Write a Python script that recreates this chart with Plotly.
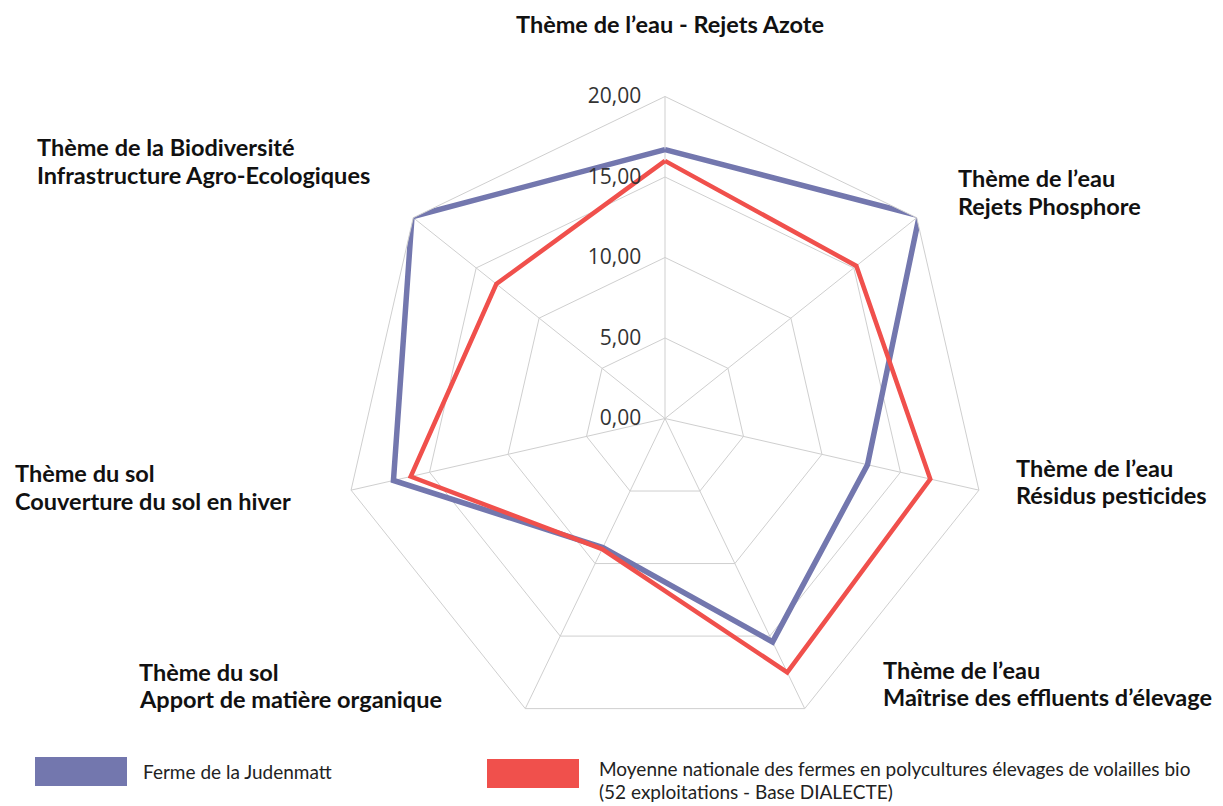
import plotly.graph_objects as go

categories = [
    "Rejets Azote",
    "Rejets Phosphore",
    "Résidus pesticides",
    "Maîtrise des effluents d'élevage",
    "Apport de matière organique",
    "Couverture du sol en hiver",
    "Infrastructure Agro-Ecologiques",
]
category_labels = [
    ["Thème de l’eau - Rejets Azote"],
    ["Thème de l’eau", "Rejets Phosphore"],
    ["Thème de l’eau", "Résidus pesticides"],
    ["Thème de l’eau", "Maîtrise des effluents d’élevage"],
    ["Thème du sol", "Apport de matière organique"],
    ["Thème du sol", "Couverture du sol en hiver"],
    ["Thème de la Biodiversité", "Infrastructure Agro-Ecologiques"],
]
series_names = [
    ["Ferme de la Judenmatt"],
    ["Moyenne nationale des fermes en polycultures élevages de volailles bio",
     "(52 exploitations - Base DIALECTE)"],
]
ferme = [16.7, 20.2, 12.9, 15.4, 8.9, 17.3, 20.1]
moyenne = [16.0, 15.2, 16.9, 17.5, 9.0, 16.2, 13.4]
radial_ticks = [0, 5, 10, 15, 20]

blue = "#7377AE"
red = "#F0504C"
grid = "#CFCFCF"

# page body has an 8px margin: figure is sized to fit the window inside it
OFF = 8
W, H = 1215, 798
cx, cy, R = 665 - OFF, 418.5 - OFF, 322


def px(x):
    return (x - OFF) / W


def py(y):
    return 1 - (y - OFF) / H


fig = go.Figure()
for vals, name, col, w in [(ferme, series_names[0][0], blue, 5.5), (moyenne, series_names[1][0], red, 4.5)]:
    fig.add_trace(go.Scatterpolar(
        r=vals + [vals[0]], theta=categories + [categories[0]],
        mode="lines", name=name, line=dict(color=col, width=w), showlegend=False,
    ))

fig.update_layout(
    width=W, height=H,
    margin=dict(l=0, r=0, t=0, b=0),
    paper_bgcolor="white",
    separators=", ",
    polar=dict(
        domain=dict(x=[(cx - R) / W, (cx + R) / W], y=[(H - cy - R) / H, (H - cy + R) / H]),
        bgcolor="white",
        gridshape="linear",
        angularaxis=dict(rotation=90, direction="clockwise", showticklabels=False, ticks="",
                         gridcolor=grid, gridwidth=1, linecolor=grid, linewidth=1, showline=True),
        radialaxis=dict(range=[0, 20], tickvals=radial_ticks, tickformat=".2f", angle=90, tickangle=90,
                        side="counterclockwise",
                        showline=False, ticks="outside", ticklen=16, tickcolor="rgba(0,0,0,0)",
                        gridcolor=grid, gridwidth=1,
                        tickfont=dict(family="Open Sans, sans-serif", size=21, color="#333333")),
    ),
    font=dict(family="Lato, sans-serif"),
)

label_pos = [
    (670, [24], "center"),
    (957, [178, 206], "left"),
    (1015, [468, 495], "left"),
    (882, [670, 697], "left"),
    (138, [672, 699], "left"),
    (14, [473, 501], "left"),
    (36, [147, 175], "left"),
]
for lines, (x, ys, al) in zip(category_labels, label_pos):
    for txt, y in zip(lines, ys):
        fig.add_annotation(
            x=px(x), y=py(y), xref="paper", yref="paper", text="<b>" + txt + "</b>",
            showarrow=False, xanchor=al, yanchor="middle", borderpad=0,
            font=dict(family="Lato, sans-serif", size=23.5, color="#111111"),
        )

legend_items = [
    (series_names[0], blue, 35, 757, 127, 786, 142, [771]),
    (series_names[1], red, 487, 759, 579, 788, 598, [768, 791]),
]
for lines, col, x0, y0, x1, y1, tx, tys in legend_items:
    fig.add_shape(type="rect", xref="paper", yref="paper",
                  x0=px(x0), x1=px(x1), y0=py(y0), y1=py(y1),
                  fillcolor=col, line=dict(width=0))
    for txt, ty in zip(lines, tys):
        fig.add_annotation(x=px(tx), y=py(ty), xref="paper", yref="paper", text=txt,
                           showarrow=False, xanchor="left", yanchor="middle", borderpad=0,
                           font=dict(family="Lato, sans-serif", size=19, color="#222222"))

fig.write_html("out.html")
